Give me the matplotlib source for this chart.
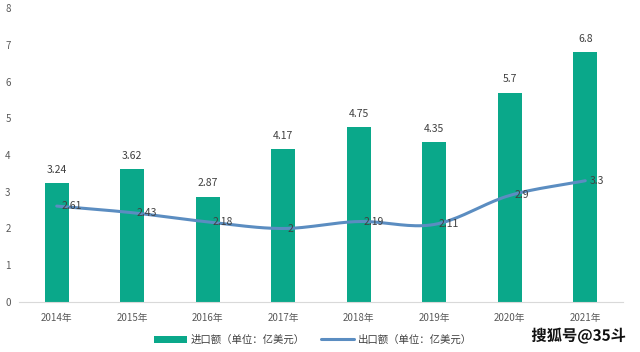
import numpy as np
import matplotlib
matplotlib.use("Agg")
import matplotlib.pyplot as plt
import matplotlib.patheffects as pe

plt.rcParams['font.family'] = ['Noto Sans CJK SC', 'DejaVu Sans']

years = ['2014年', '2015年', '2016年', '2017年', '2018年', '2019年', '2020年', '2021年']
imports = [3.24, 3.62, 2.87, 4.17, 4.75, 4.35, 5.7, 6.8]
exports = [2.61, 2.43, 2.18, 2.0, 2.19, 2.11, 2.9, 3.3]
import_labels = ['3.24', '3.62', '2.87', '4.17', '4.75', '4.35', '5.7', '6.8']
export_labels = ['2.61', '2.43', '2.18', '2', '2.19', '2.11', '2.9', '3.3']
legend_labels = ['进口额（单位：亿美元）', '出口额（单位：亿美元）']

bar_color = '#0AA88A'
line_color = '#5B8DC1'
text_color = '#404040'

fig = plt.figure(figsize=(6.4, 3.52), dpi=100)
ax = fig.add_axes([19/640, 1-302/352, (623-19)/640, (302-8)/352])

x = np.arange(len(years))
bars = ax.bar(x, imports, width=0.32, color=bar_color, zorder=2)

# smooth curve (Catmull-Rom) through the data points, like Excel's smoothed line
def catmull(xs, ys, n=20):
    px = np.concatenate([[2*xs[0]-xs[1]], xs, [2*xs[-1]-xs[-2]]])
    py = np.concatenate([[2*ys[0]-ys[1]], ys, [2*ys[-1]-ys[-2]]])
    ox, oy = [], []
    for i in range(1, len(px)-2):
        t = np.linspace(0, 1, n, endpoint=False)
        for arr, out in ((px, ox), (py, oy)):
            p0, p1, p2, p3 = arr[i-1], arr[i], arr[i+1], arr[i+2]
            out.extend(0.5*((2*p1) + (-p0+p2)*t + (2*p0-5*p1+4*p2-p3)*t**2 + (-p0+3*p1-3*p2+p3)*t**3))
    ox.append(xs[-1]); oy.append(ys[-1])
    return np.array(ox), np.array(oy)

sx, sy = catmull(x.astype(float), np.array(exports, dtype=float))
line, = ax.plot(sx, sy, color=line_color, lw=2.2, zorder=3, solid_capstyle='round')

for xi, v, lab in zip(x, imports, import_labels):
    ax.text(xi, v + 0.22, lab, ha='center', va='bottom', fontsize=7.5, color=text_color)
for xi, v, lab in zip(x, exports, export_labels):
    ax.text(xi + 0.06, v, lab, ha='left', va='center', fontsize=7.5, color=text_color, zorder=4)

ax.set_xlim(-0.5, len(years) - 0.5)
ax.set_ylim(0, 8)
ax.set_yticks(range(0, 9))
ax.set_xticks(x)
ax.set_xticklabels(years)
ax.tick_params(axis='both', length=0, labelsize=7, colors='#595959')
ax.tick_params(axis='x', pad=8)
ax.tick_params(axis='y', pad=6)
for s in ['top', 'right', 'left']:
    ax.spines[s].set_visible(False)
ax.spines['bottom'].set_color('#D9D9D9')

fig.legend([bars, line], legend_labels, loc='center', bbox_to_anchor=(313/640, 1-340/352),
           ncol=2, frameon=False, fontsize=7.5, handlelength=3.2, columnspacing=1.5,
           handletextpad=0.4, labelcolor='#404040')

fig.text(0.978, 1-336/352, '搜狐号@35斗', ha='right', va='center', fontsize=11, color='#111111',
         fontweight='bold', path_effects=[pe.withStroke(linewidth=2, foreground='white')])

fig.savefig('out.png', dpi=100)
